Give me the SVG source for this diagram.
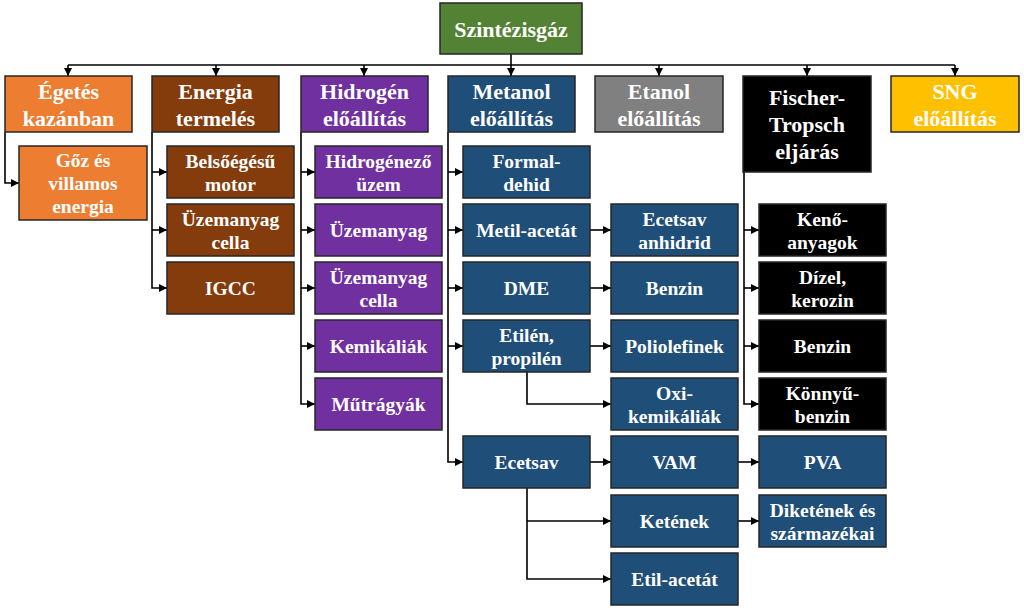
<svg xmlns="http://www.w3.org/2000/svg" width="1024" height="612" viewBox="0 0 1024 612">
<style>
.b{stroke:#262626;stroke-width:1.5}
.t{font-family:"Liberation Serif","Times New Roman",serif;font-weight:bold;fill:#fff;text-anchor:middle}
.L{font-size:22px}
.S{font-size:19.5px}
.c{fill:none;stroke:#000;stroke-width:1.6;marker-end:url(#a)}
.n{fill:none;stroke:#000;stroke-width:1.6}
.gr{fill:#548235}.or{fill:#ED7D31}.br{fill:#843C0C}.pu{fill:#7030A0}.bl{fill:#1F4E79}.gy{fill:#808080}.bk{fill:#000}.go{fill:#FFC000}
</style>
<defs>
<marker id="a" markerUnits="userSpaceOnUse" markerWidth="9" markerHeight="8" refX="8" refY="4" orient="auto">
<path d="M0,0 L8,4 L0,8 z" fill="#000"/>
</marker>
</defs>
<rect width="1024" height="612" fill="#fff"/>
<g id="connectors">
<path class="n" d="M68,65 H955"/>
<path class="c" d="M511,54 V76"/>
<path class="c" d="M68,65 V76"/>
<path class="c" d="M216,65 V76"/>
<path class="c" d="M364,65 V76"/>
<path class="c" d="M659,65 V76"/>
<path class="c" d="M807,65 V76"/>
<path class="c" d="M955,65 V76"/>
<path class="c" d="M5,132 V183 H19"/>
<path class="c" d="M152,132 V288 H167"/>
<path class="c" d="M152,172 H167"/>
<path class="c" d="M152,230 H167"/>
<path class="c" d="M301,132 V404 H315"/>
<path class="c" d="M301,172 H315"/>
<path class="c" d="M301,230 H315"/>
<path class="c" d="M301,288 H315"/>
<path class="c" d="M301,346 H315"/>
<path class="c" d="M448,132 V462 H463"/>
<path class="c" d="M448,172 H463"/>
<path class="c" d="M448,230 H463"/>
<path class="c" d="M448,288 H463"/>
<path class="c" d="M448,346 H463"/>
<path class="c" d="M590,230 H611"/>
<path class="c" d="M590,288 H611"/>
<path class="c" d="M590,346 H611"/>
<path class="c" d="M527,372 V404 H611"/>
<path class="c" d="M590,462 H611"/>
<path class="c" d="M527,488 V579 H611"/>
<path class="c" d="M527,521 H611"/>
<path class="c" d="M744,172 V404 H759"/>
<path class="c" d="M744,230 H759"/>
<path class="c" d="M744,288 H759"/>
<path class="c" d="M744,346 H759"/>
<path class="c" d="M738,462 H759"/>
<path class="c" d="M738,521 H759"/>
</g>
<g id="szintezisgaz"><rect class="b gr" x="440" y="3" width="142" height="51"/><text class="t L" x="511" y="37">Szintézisgáz</text></g>
<g id="eg"><rect class="b or" x="5" y="76" width="127" height="56"/><text class="t L" x="68.5"><tspan x="68.5" y="99">Égetés</tspan><tspan x="68.5" y="126">kazánban</tspan></text></g>
<g id="en"><rect class="b br" x="152" y="76" width="127" height="56"/><text class="t L"><tspan x="215.5" y="99">Energia</tspan><tspan x="215.5" y="126">termelés</tspan></text></g>
<g id="hi"><rect class="b pu" x="301" y="76" width="127" height="56"/><text class="t L"><tspan x="364.5" y="99">Hidrogén</tspan><tspan x="364.5" y="126">előállítás</tspan></text></g>
<g id="me"><rect class="b bl" x="448" y="76" width="127" height="56"/><text class="t L"><tspan x="511.5" y="99">Metanol</tspan><tspan x="511.5" y="126">előállítás</tspan></text></g>
<g id="et"><rect class="b gy" x="595" y="76" width="128" height="56"/><text class="t L"><tspan x="659" y="99">Etanol</tspan><tspan x="659" y="126">előállítás</tspan></text></g>
<g id="ft"><rect class="b bk" x="743" y="76" width="128" height="96"/><text class="t L"><tspan x="807" y="104.5">Fischer-</tspan><tspan x="807" y="131.5">Tropsch</tspan><tspan x="807" y="158.5">eljárás</tspan></text></g>
<g id="sng"><rect class="b go" x="891" y="76" width="128" height="56"/><text class="t L"><tspan x="955" y="99">SNG</tspan><tspan x="955" y="126">előállítás</tspan></text></g>
<g id="goz"><rect class="b or" x="19" y="146" width="128" height="74"/><text class="t S"><tspan x="83" y="167">Gőz és</tspan><tspan x="83" y="190">villamos</tspan><tspan x="83" y="213">energia</tspan></text></g>
<g id="belso"><rect class="b br" x="167" y="146" width="127" height="52"/><text class="t S"><tspan x="230.5" y="167.5">Belsőégésű</tspan><tspan x="230.5" y="190.5">motor</tspan></text></g>
<g id="uzc1"><rect class="b br" x="167" y="204" width="127" height="52"/><text class="t S"><tspan x="230.5" y="225.5">Üzemanyag</tspan><tspan x="230.5" y="248.5">cella</tspan></text></g>
<g id="igcc"><rect class="b br" x="167" y="262" width="127" height="52"/><text class="t S" x="230.5" y="295">IGCC</text></g>
<g id="hidr"><rect class="b pu" x="315" y="146" width="127" height="52"/><text class="t S"><tspan x="378.5" y="167.5">Hidrogénező</tspan><tspan x="378.5" y="190.5">üzem</tspan></text></g>
<g id="uz"><rect class="b pu" x="315" y="204" width="127" height="52"/><text class="t S" x="378.5" y="237">Üzemanyag</text></g>
<g id="uzc2"><rect class="b pu" x="315" y="262" width="127" height="52"/><text class="t S"><tspan x="378.5" y="283.5">Üzemanyag</tspan><tspan x="378.5" y="306.5">cella</tspan></text></g>
<g id="kem"><rect class="b pu" x="315" y="320" width="127" height="52"/><text class="t S" x="378.5" y="353">Kemikáliák</text></g>
<g id="mut"><rect class="b pu" x="315" y="378" width="127" height="52"/><text class="t S" x="378.5" y="411">Műtrágyák</text></g>
<g id="form"><rect class="b bl" x="463" y="146" width="127" height="52"/><text class="t S"><tspan x="526.5" y="167.5">Formal-</tspan><tspan x="526.5" y="190.5">dehid</tspan></text></g>
<g id="metil"><rect class="b bl" x="463" y="204" width="127" height="52"/><text class="t S" x="526.5" y="237">Metil-acetát</text></g>
<g id="dme"><rect class="b bl" x="463" y="262" width="127" height="52"/><text class="t S" x="526.5" y="295">DME</text></g>
<g id="etilen"><rect class="b bl" x="463" y="320" width="127" height="52"/><text class="t S"><tspan x="526.5" y="341.5">Etilén,</tspan><tspan x="526.5" y="364.5">propilén</tspan></text></g>
<g id="ecetsav"><rect class="b bl" x="463" y="436" width="127" height="52"/><text class="t S" x="526.5" y="469">Ecetsav</text></g>
<g id="anh"><rect class="b bl" x="611" y="204" width="127" height="52"/><text class="t S"><tspan x="674.5" y="225.5">Ecetsav</tspan><tspan x="674.5" y="248.5">anhidrid</tspan></text></g>
<g id="benz1"><rect class="b bl" x="611" y="262" width="127" height="52"/><text class="t S" x="674.5" y="295">Benzin</text></g>
<g id="poli"><rect class="b bl" x="611" y="320" width="127" height="52"/><text class="t S" x="674.5" y="353">Poliolefinek</text></g>
<g id="oxi"><rect class="b bl" x="611" y="378" width="127" height="52"/><text class="t S"><tspan x="674.5" y="399.5">Oxi-</tspan><tspan x="674.5" y="422.5">kemikáliák</tspan></text></g>
<g id="vam"><rect class="b bl" x="611" y="436" width="127" height="52"/><text class="t S" x="674.5" y="469">VAM</text></g>
<g id="keten"><rect class="b bl" x="611" y="495" width="127" height="52"/><text class="t S" x="674.5" y="528">Ketének</text></g>
<g id="etil"><rect class="b bl" x="611" y="553" width="127" height="52"/><text class="t S" x="674.5" y="586">Etil-acetát</text></g>
<g id="keno"><rect class="b bk" x="759" y="204" width="127" height="52"/><text class="t S"><tspan x="822.5" y="225.5">Kenő-</tspan><tspan x="822.5" y="248.5">anyagok</tspan></text></g>
<g id="dizel"><rect class="b bk" x="759" y="262" width="127" height="52"/><text class="t S"><tspan x="822.5" y="283.5">Dízel,</tspan><tspan x="822.5" y="306.5">kerozin</tspan></text></g>
<g id="benz2"><rect class="b bk" x="759" y="320" width="127" height="52"/><text class="t S" x="822.5" y="353">Benzin</text></g>
<g id="konnyu"><rect class="b bk" x="759" y="378" width="127" height="52"/><text class="t S"><tspan x="822.5" y="399.5">Könnyű-</tspan><tspan x="822.5" y="422.5">benzin</tspan></text></g>
<g id="pva"><rect class="b bl" x="759" y="436" width="127" height="52"/><text class="t S" x="822.5" y="469">PVA</text></g>
<g id="diketen"><rect class="b bl" x="759" y="495" width="127" height="52"/><text class="t S"><tspan x="822.5" y="516.5">Diketének és</tspan><tspan x="822.5" y="539.5">származékai</tspan></text></g>
</svg>
